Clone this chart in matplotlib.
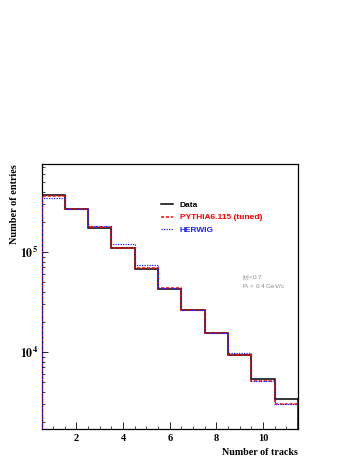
import numpy as np
import matplotlib
matplotlib.use("Agg")
import matplotlib.pyplot as plt
from matplotlib.ticker import FixedLocator, FixedFormatter, LogLocator, NullFormatter, MultipleLocator

# ---- data ----
edges = [0.5, 1.5, 2.5, 3.5, 4.5, 5.5, 6.5, 7.5, 8.5, 9.5, 10.5, 11.5]
data_vals = [3.74e5, 2.67e5, 1.73e5, 1.09e5, 6.8e4, 4.24e4, 2.63e4, 1.54e4, 9.3e3, 5.33e3, 3.37e3]
pythia_vals = [3.63e5, 2.70e5, 1.79e5, 1.10e5, 6.9e4, 4.40e4, 2.63e4, 1.54e4, 9.3e3, 5.13e3, 3.0e3]
herwig_vals = [3.49e5, 2.70e5, 1.82e5, 1.19e5, 7.36e4, 4.40e4, 2.63e4, 1.54e4, 9.85e3, 5.13e3, 3.0e3]
labels = ["Data", "PYTHIA6.115 (tuned)", "HERWIG"]
xtick_vals = [2, 4, 6, 8, 10]
ytick_vals = [1e4, 1e5]
ytick_labels = [r"$\mathbf{10^{\,4}}$", r"$\mathbf{10^{\,5}}$"]

plt.rcParams['mathtext.fontset'] = 'stix'
serif = "Liberation Serif"
sans = "Liberation Sans"

fig = plt.figure(figsize=(3.58, 4.63), dpi=100)
ax = fig.add_axes([0.116, 0.0734, 0.716, 0.5726])

ax.stairs(data_vals, edges, baseline=1, color="black", lw=1.1, label=labels[0], zorder=3)
ax.stairs(pythia_vals, edges, baseline=1, color="#ff0000", lw=1.1, ls=(0, (2, 1.2)), label=labels[1], zorder=4)
ax.stairs(herwig_vals, edges, baseline=1, color="#2020ff", lw=0.9, ls=(0, (1, 1)), label=labels[2], zorder=5)

ax.set_yscale("log")
ax.set_xlim(0.5, 11.5)
ax.set_ylim(1698, 7.59e5)

ax.xaxis.set_major_locator(FixedLocator(xtick_vals))
ax.xaxis.set_minor_locator(MultipleLocator(0.5))
ax.set_xticklabels([str(v) for v in xtick_vals], fontfamily=serif, fontweight="bold", fontsize=7.5)
ax.yaxis.set_major_locator(FixedLocator(ytick_vals))
ax.yaxis.set_major_formatter(FixedFormatter(ytick_labels))
ax.yaxis.set_minor_locator(LogLocator(base=10, subs=np.arange(2, 10)))
ax.yaxis.set_minor_formatter(NullFormatter())
for t in ax.get_yticklabels():
    t.set_fontsize(8.5)

ax.tick_params(axis="both", which="both", direction="in", top=False, right=False)
ax.tick_params(axis="x", which="major", length=5, width=0.6, pad=3.5)
ax.tick_params(axis="x", which="minor", length=2.5, width=0.5)
ax.tick_params(axis="y", which="major", length=4.5, width=0.6, pad=2)
ax.tick_params(axis="y", which="minor", length=2.2, width=0.5)
for s in ax.spines.values():
    s.set_linewidth(0.9)

ax.set_xlabel("Number of tracks", loc="right", fontfamily=serif, fontweight="bold", fontsize=7.2)
ax.xaxis.set_label_coords(1.0, -0.072)
ax.set_ylabel("Number of entries", loc="top", fontfamily=serif, fontweight="bold", fontsize=7.4)
ax.yaxis.set_label_coords(-0.087, 1.0)

leg = ax.legend(loc="upper left", bbox_to_anchor=(0.449, 0.875), frameon=False,
                prop={"family": sans, "weight": "bold", "size": 6.0},
                handlelength=1.45, handletextpad=0.8, labelspacing=0.55, borderpad=0)
for txt, c in zip(leg.get_texts(), ["black", "#ff0000", "#2020ff"]):
    txt.set_color(c)

ax.text(0.782, 0.570, r"|$\eta$|<0.7", transform=ax.transAxes, fontsize=4.6, color="#888888",
        fontfamily=sans, ha="left", va="center")
ax.text(0.782, 0.536, r"P$_{\rm t}$ > 0.4 GeV/c", transform=ax.transAxes, fontsize=4.6, color="#888888",
        fontfamily=sans, ha="left", va="center")

fig.savefig("out.png", dpi=100)
